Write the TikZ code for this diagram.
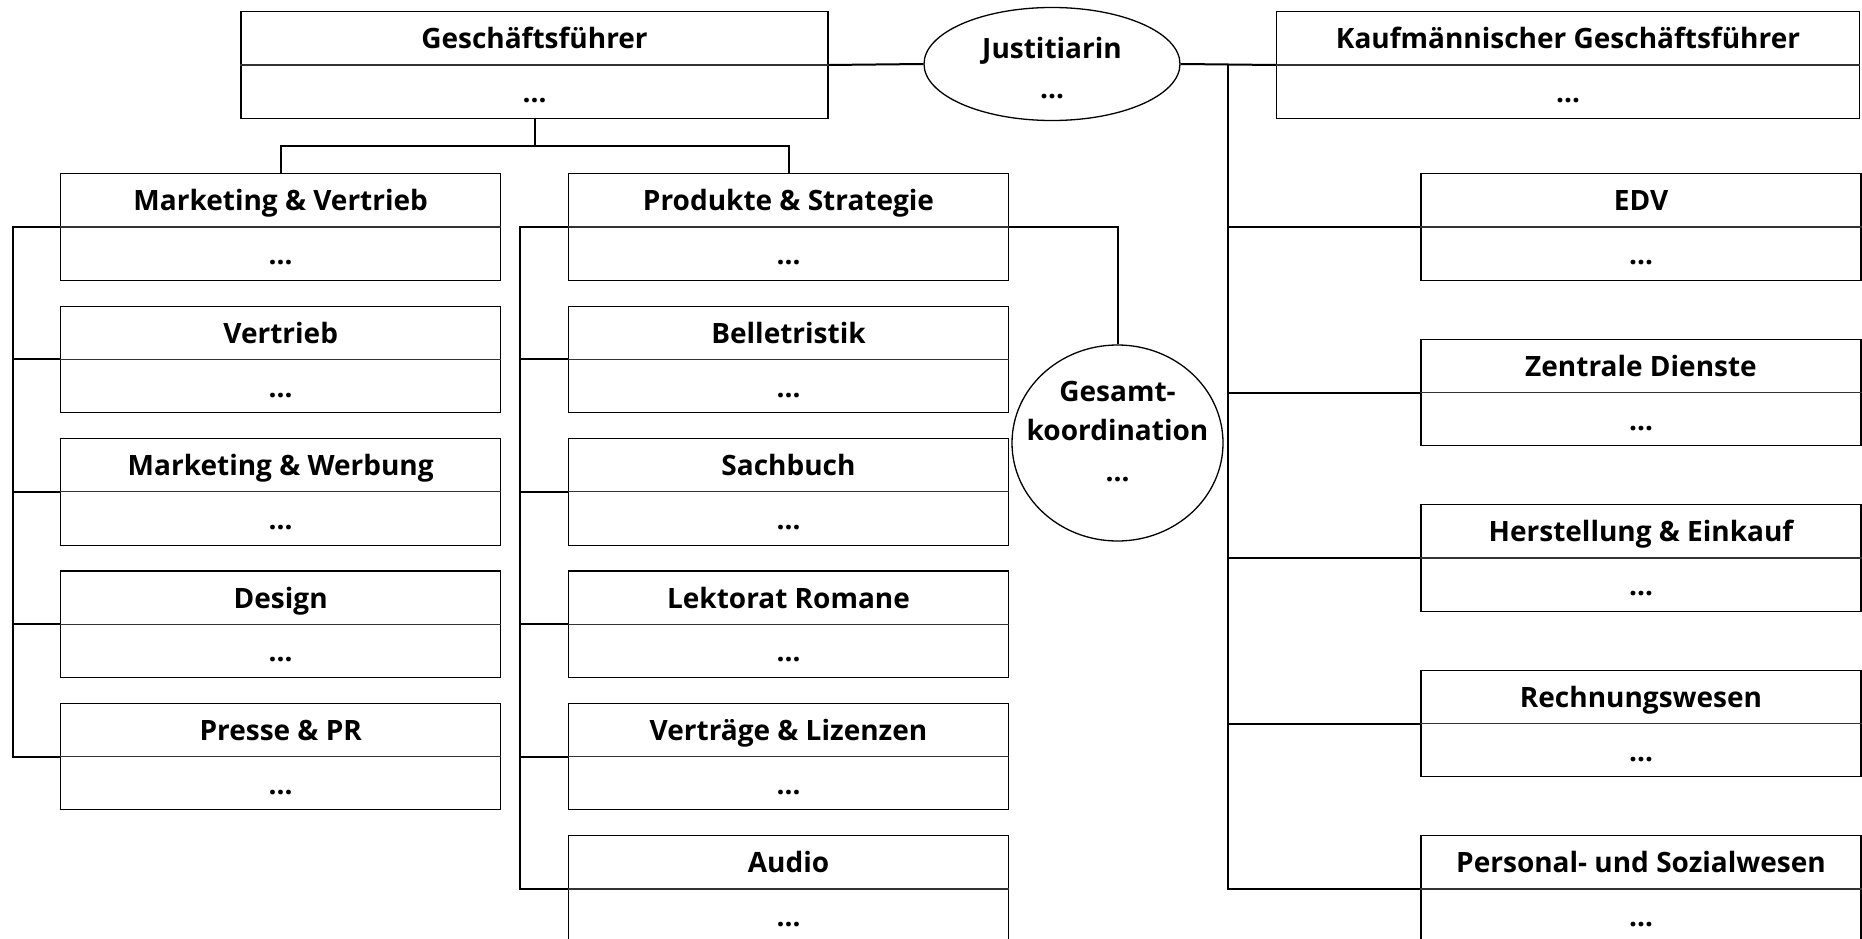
\documentclass[tikz,border=0pt]{standalone}
\usepackage{fontspec}
\setmainfont{Open Sans}
\usetikzlibrary{shapes.geometric}
\tikzset{
  orgbox/.style={draw=black, line width=1.1pt, rectangle, minimum height=106.5pt, inner sep=0pt},
  divline/.style={draw=black!80, line width=1.1pt},
  txt/.style={font=\fontsize{28}{32}\selectfont\bfseries, inner sep=0pt, anchor=base},
  conn/.style={draw=black, line width=2pt},
  bubble/.style={draw=black, line width=1.3pt, ellipse, inner sep=0pt},
}
\newcommand\orgunit[5]{%
  \node[orgbox, minimum width=#4] (#1) at (#2,#3) {};
  \draw[divline] (#1.west) -- (#1.east);
  \node[txt] (#1-t) at ([yshift=-37.6pt]#1.north) {#5};
  \node[txt] (#1-d) at ([yshift=-37.6pt]#1.center) {…};
}
\begin{document}
\begin{tikzpicture}[x=1pt,y=-1pt]
\useasboundingbox (0,0) rectangle (1862,939);
% top row
\orgunit{gf}{534.5}{65}{587pt}{Geschäftsführer}
\orgunit{kgf}{1568}{65}{583pt}{Kaufmännischer Geschäftsführer}
\node[bubble, minimum width=256pt, minimum height=113pt] (jus) at (1052,64) {};
\node[txt] (jus-t) at (1052,59) {Justitiarin};
\node[txt] (jus-d) at (1052,98.5) {…};
% left column
\orgunit{mv}{280.7}{227}{440pt}{Marketing \& Vertrieb}
\orgunit{vt}{280.7}{359.4}{440pt}{Vertrieb}
\orgunit{mw}{280.7}{491.8}{440pt}{Marketing \& Werbung}
\orgunit{de}{280.7}{624.2}{440pt}{Design}
\orgunit{pr}{280.7}{756.6}{440pt}{Presse \& PR}
% middle column
\orgunit{ps}{788.5}{227}{440.5pt}{Produkte \& Strategie}
\orgunit{be}{788.5}{359.4}{440.5pt}{Belletristik}
\orgunit{sb}{788.5}{491.8}{440.5pt}{Sachbuch}
\orgunit{lr}{788.5}{624.2}{440.5pt}{Lektorat Romane}
\orgunit{vl}{788.5}{756.6}{440.5pt}{Verträge \& Lizenzen}
\orgunit{au}{788.5}{889}{440.5pt}{Audio}
% right column
\orgunit{edv}{1641}{227}{440pt}{EDV}
\orgunit{zd}{1641}{392.5}{440pt}{Zentrale Dienste}
\orgunit{he}{1641}{558}{440pt}{Herstellung \& Einkauf}
\orgunit{rw}{1641}{723.5}{440pt}{Rechnungswesen}
\orgunit{psw}{1641}{889}{440pt}{Personal- und Sozialwesen}
% Gesamtkoordination
\node[bubble, minimum width=211pt, minimum height=196pt] (gk) at (1117.5,443) {};
\node[txt] (gk-t1) at (1117.5,401.7) {Gesamt-};
\node[txt] (gk-t2) at (1117.5,440) {koordination};
\node[txt] (gk-d) at (1117.5,481) {…};
% connectors
\coordinate (gfj) at (534.5,145.7);
\draw[conn] (gf.south) -- (gfj);
\draw[conn] (gfj) -| (mv.north);
\draw[conn] (gfj) -| (ps.north);
\draw[conn] (gf.east) -- (jus.west);
\draw[conn] (jus.east) -- (kgf.west);
\draw[conn] (ps.east) -| (gk.north);
% left trunk
\coordinate (lt) at (12.6,227);
\draw[conn] (mv.west) -- (lt) |- (pr.west);
\foreach \n in {vt,mw,de} \draw[conn] (lt |- \n.west) -- (\n.west);
% middle trunk
\coordinate (mt) at (520,227);
\draw[conn] (ps.west) -- (mt) |- (au.west);
\foreach \n in {be,sb,lr,vl} \draw[conn] (mt |- \n.west) -- (\n.west);
% right trunk
\coordinate (rt) at (1228,65);
\draw[conn] (rt) |- (psw.west);
\foreach \n in {edv,zd,he,rw} \draw[conn] (rt |- \n.west) -- (\n.west);
\end{tikzpicture}
\end{document}
